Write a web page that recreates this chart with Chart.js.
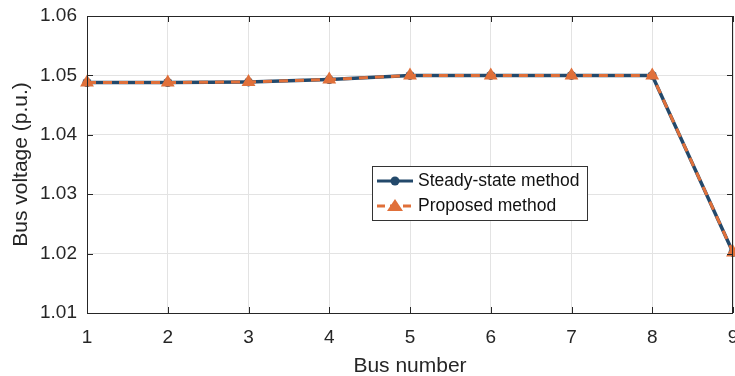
<!DOCTYPE html>
<html>
<head>
<meta charset="utf-8">
<script src="https://cdn.jsdelivr.net/npm/chart.js@4/dist/chart.umd.min.js"></script>
<style>
  html, body { margin: 0; padding: 0; background: #fff; overflow: hidden; }
  #wrap { width: 741px; height: 383px; }
</style>
</head>
<body>
<div id="wrap"><canvas id="chart"></canvas></div>
<script>
const buses = [1, 2, 3, 4, 5, 6, 7, 8, 9];
const steadyState = [1.0488, 1.0488, 1.0489, 1.0493, 1.05, 1.05, 1.05, 1.05, 1.0202];
const proposed = [1.0488, 1.0488, 1.0489, 1.0493, 1.05, 1.05, 1.05, 1.05, 1.0202];
const seriesNames = ["Steady-state method", "Proposed method"];

const blue = "#23496b";
const orange = "#e0703a";
const font = "'Liberation Sans', Arial, sans-serif";

// box round the plot, inner tick marks and legend box inside the plot
const framePlugin = {
  id: "frame",
  afterDraw(chart) {
    const ctx = chart.ctx;
    const a = chart.chartArea;
    const x = chart.scales.x, y = chart.scales.y;
    ctx.save();
    ctx.strokeStyle = "#262626";
    ctx.lineWidth = 1;
    ctx.beginPath();
    buses.forEach(b => {
      const px = Math.round(x.getPixelForValue(b)) + 0.5;
      ctx.moveTo(px, a.bottom); ctx.lineTo(px, a.bottom - 6);
      ctx.moveTo(px, a.top); ctx.lineTo(px, a.top + 6);
    });
    y.ticks.forEach(t => {
      const py = Math.round(y.getPixelForValue(t.value)) + 0.5;
      ctx.moveTo(a.left, py); ctx.lineTo(a.left + 6, py);
      ctx.moveTo(a.right, py); ctx.lineTo(a.right - 6, py);
    });
    ctx.stroke();
    ctx.strokeRect(Math.round(a.left) + 0.5, Math.round(a.top) + 0.5,
      Math.round(a.right - a.left) - 1, Math.round(a.bottom - a.top));

    // legend
    const lx = 372, ly = 166, lw = 215, lh = 54;
    ctx.fillStyle = "#fff";
    ctx.fillRect(lx, ly, lw, lh);
    ctx.strokeStyle = "#333";
    ctx.strokeRect(lx + 0.5, ly + 0.5, lw, lh);
    ctx.font = "17.5px " + font;
    ctx.textBaseline = "middle";
    // row 1
    let ry = ly + 15;
    ctx.strokeStyle = blue; ctx.lineWidth = 3; ctx.setLineDash([]);
    ctx.beginPath(); ctx.moveTo(377, ry); ctx.lineTo(413, ry); ctx.stroke();
    ctx.fillStyle = blue;
    ctx.beginPath(); ctx.arc(395, ry, 4.5, 0, Math.PI * 2); ctx.fill();
    ctx.fillStyle = "#111";
    ctx.fillText(seriesNames[0], 418, ry);
    // row 2
    ry = ly + 40;
    ctx.strokeStyle = orange; ctx.setLineDash([8, 5]);
    ctx.beginPath(); ctx.moveTo(377, ry); ctx.lineTo(413, ry); ctx.stroke();
    ctx.setLineDash([]);
    ctx.fillStyle = orange;
    ctx.beginPath(); ctx.moveTo(395, ry - 7); ctx.lineTo(403, ry + 5); ctx.lineTo(387, ry + 5); ctx.closePath(); ctx.fill();
    ctx.fillStyle = "#111";
    ctx.fillText(seriesNames[1], 418, ry);
    ctx.restore();
  }
};

new Chart(document.getElementById("chart"), {
  type: "line",
  data: {
    datasets: [
      {
        label: seriesNames[0],
        data: buses.map((b, i) => ({ x: b, y: steadyState[i] })),
        borderColor: blue,
        backgroundColor: blue,
        borderWidth: 3.5,
        pointStyle: "circle",
        pointRadius: 4.5,
        pointBorderWidth: 0,
        order: 1
      },
      {
        label: seriesNames[1],
        data: buses.map((b, i) => ({ x: b, y: proposed[i] })),
        borderColor: orange,
        backgroundColor: orange,
        borderWidth: 3,
        borderDash: [9, 7],
        pointStyle: "triangle",
        pointRadius: 8,
        pointBorderWidth: 0,
        order: 0
      }
    ]
  },
  options: {
    responsive: true,
    maintainAspectRatio: false,
    animation: false,
    clip: false,
    layout: { padding: { top: 16, right: 0, left: 5, bottom: 0 } },
    plugins: { legend: { display: false }, tooltip: { enabled: false } },
    scales: {
      x: {
        type: "linear",
        min: 1,
        max: 9,
        afterFit(s) { s.height = 70; s.paddingLeft = 0; s.paddingRight = 0; },
        grid: { color: "#e3e3e3", drawTicks: false },
        border: { display: false },
        ticks: { stepSize: 1, color: "#262626", padding: 13, font: { family: font, size: 19 } },
        title: { display: true, text: "Bus number", color: "#262626", padding: { top: 4 }, font: { family: font, size: 21 } }
      },
      y: {
        min: 1.01,
        max: 1.06,
        afterFit(s) { s.width = 82; s.paddingTop = 0; s.paddingBottom = 0; },
        grid: { color: "#e3e3e3", drawTicks: false },
        border: { display: false },
        ticks: { stepSize: 0.01, color: "#262626", padding: 10, font: { family: font, size: 19 },
          callback: v => v.toFixed(2) },
        title: { display: true, text: "Bus voltage (p.u.)", color: "#262626", padding: { bottom: 4 }, font: { family: font, size: 21 } }
      }
    }
  },
  plugins: [framePlugin]
});
</script>
</body>
</html>
